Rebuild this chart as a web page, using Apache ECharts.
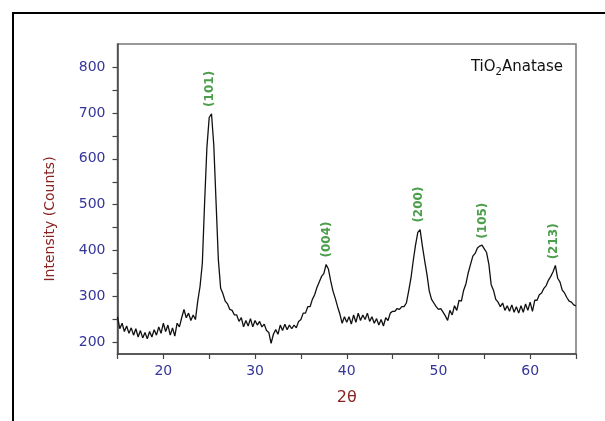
<!DOCTYPE html>
<html>
<head>
<meta charset="utf-8">
<script src="https://cdn.jsdelivr.net/npm/echarts@6/dist/echarts.min.js"></script>
<style>html,body{margin:0;padding:0;background:#fff}#c{width:605px;height:421px}</style>
</head>
<body>
<div id="c"></div>
<script>
// 2θ angles (degrees)
const twoTheta = [
15.00,15.25,15.50,15.75,16.00,16.25,16.50,16.75,17.00,17.25,17.50,17.75,18.00,18.25,18.50,18.75,19.00,19.25,19.50,19.75,
20.00,20.25,20.50,20.75,21.00,21.25,21.50,21.75,22.00,22.25,22.50,22.75,23.00,23.25,23.50,23.75,24.00,24.25,24.50,24.75,
25.00,25.25,25.50,25.75,26.00,26.25,26.50,26.75,27.00,27.25,27.50,27.75,28.00,28.25,28.50,28.75,29.00,29.25,29.50,29.75,
30.00,30.25,30.50,30.75,31.00,31.25,31.50,31.75,32.00,32.25,32.50,32.75,33.00,33.25,33.50,33.75,34.00,34.25,34.50,34.75,
35.00,35.25,35.50,35.75,36.00,36.25,36.50,36.75,37.00,37.25,37.50,37.75,38.00,38.25,38.50,38.75,39.00,39.25,39.50,39.75,
40.00,40.25,40.50,40.75,41.00,41.25,41.50,41.75,42.00,42.25,42.50,42.75,43.00,43.25,43.50,43.75,44.00,44.25,44.50,44.75,
45.00,45.25,45.50,45.75,46.00,46.25,46.50,46.75,47.00,47.25,47.50,47.75,48.00,48.25,48.50,48.75,49.00,49.25,49.50,49.75,
50.00,50.25,50.50,50.75,51.00,51.25,51.50,51.75,52.00,52.25,52.50,52.75,53.00,53.25,53.50,53.75,54.00,54.25,54.50,54.75,
55.00,55.25,55.50,55.75,56.00,56.25,56.50,56.75,57.00,57.25,57.50,57.75,58.00,58.25,58.50,58.75,59.00,59.25,59.50,59.75,
60.00,60.25,60.50,60.75,61.00,61.25,61.50,61.75,62.00,62.25,62.50,62.75,63.00,63.25,63.50,63.75,64.00,64.25,64.50,64.75,
65.00
];
// Intensity (counts)
const counts = [
256,230,242,224,236,220,232,216,230,212,226,210,222,208,224,212,228,216,234,220,
242,224,238,216,232,214,242,234,254,272,254,264,248,260,250,290,322,372,505,625,
690,698,630,505,380,318,306,290,284,272,270,260,260,246,254,234,248,236,252,234,
248,238,246,234,240,226,222,198,218,228,218,238,226,240,228,238,230,238,232,246,
250,264,264,278,278,294,304,320,332,344,350,370,360,334,312,296,278,262,242,256,
244,256,240,260,244,264,248,260,250,264,246,256,242,252,238,250,236,254,248,264,
268,268,274,272,278,278,286,312,340,378,412,440,446,410,378,348,312,294,286,278,
272,274,266,258,248,270,260,280,270,292,290,314,328,352,370,388,394,406,410,412,
404,396,370,326,314,294,288,278,286,270,280,268,282,266,278,264,280,266,284,270,
288,268,292,292,304,308,318,324,336,344,354,368,340,332,314,308,298,290,288,282,
280
];
// Peak annotations (Miller indices)
const peakLabels = ['(101)','(004)','(200)','(105)','(213)'];
const peakAngles = [25.1, 37.8, 47.9, 54.8, 62.6];
const peakCounts = [700, 372, 448, 413, 368];
// Axis ticks
const xTickLabels = [20, 30, 40, 50, 60];
const yTickLabels = [200, 300, 400, 500, 600, 700, 800];
const yMinorTicks = [200, 250, 300, 350, 400, 450, 500, 550, 600, 650, 700, 750, 800];

const lineData = twoTheta.map((t, i) => [t, counts[i]]);
const peakData = peakAngles.map((t, i) => ({ value: [t, peakCounts[i]], name: peakLabels[i] }));

const tickBlue = '#35359a';
const darkRed = '#8a2222';
const font = 'DejaVu Sans';

const chart = echarts.init(document.getElementById('c'), null, { renderer: 'canvas' });
chart.setOption({
  animation: false,
  backgroundColor: '#fff',
  grid: { left: 117.5, right: 29, top: 44, bottom: 67, show: true, borderColor: '#777', borderWidth: 1.5, containLabel: false },
  graphic: [
    { type: 'rect', shape: { x: 13, y: 13, width: 800, height: 600 }, style: { fill: 'none', stroke: '#000', lineWidth: 2 } }
  ],
  title: {
    text: '{a|TiO}{s|2}{a|Anatase}',
    right: 37, top: 52,
    textStyle: {
      fontWeight: 'normal',
      rich: {
        a: { fontFamily: font, fontSize: 15, fontWeight: 'normal', color: '#111' },
        s: { fontFamily: font, fontSize: 10, fontWeight: 'normal', color: '#111', padding: [10, 0, 0, 0] }
      }
    }
  },
  xAxis: {
    type: 'value', min: 15, max: 65, interval: 5,
    name: '2θ', nameLocation: 'middle', nameGap: 36,
    nameTextStyle: { color: darkRed, fontFamily: font, fontSize: 16 },
    axisLine: { show: true, lineStyle: { color: '#444', width: 1.5 } },
    axisTick: { show: true, inside: false, length: 5, lineStyle: { color: '#444', width: 1.2 } },
    axisLabel: {
      color: tickBlue, fontFamily: font, fontSize: 14, margin: 10,
      formatter: v => (xTickLabels.indexOf(v) >= 0 ? String(v) : '')
    },
    splitLine: { show: false }
  },
  yAxis: {
    type: 'value', min: 175, max: 850,
    name: 'Intensity (Counts)', nameLocation: 'middle', nameGap: 60, nameRotate: 90,
    nameTextStyle: { color: darkRed, fontFamily: font, fontSize: 14, padding: [0, 0, 0, -40] },
    axisLine: { show: true, lineStyle: { color: '#444', width: 1.5 } },
    axisTick: { show: true, inside: false, length: 5, customValues: yMinorTicks, lineStyle: { color: '#444', width: 1.2 } },
    axisLabel: { color: tickBlue, fontFamily: font, fontSize: 14, margin: 12, customValues: yTickLabels },
    splitLine: { show: false }
  },
  series: [
    {
      type: 'line', data: lineData, symbol: 'none', smooth: false,
      lineStyle: { color: '#111', width: 1.3 }, z: 3
    },
    {
      type: 'scatter', data: peakData, symbolSize: 0, silent: true, z: 4,
      label: {
        show: true, position: 'top', distance: 6, rotate: 90, align: 'left', verticalAlign: 'middle',
        formatter: p => p.name, color: '#1f861f', fontFamily: font, fontSize: 12, fontWeight: 'bold'
      }
    }
  ]
});
</script>
</body>
</html>
